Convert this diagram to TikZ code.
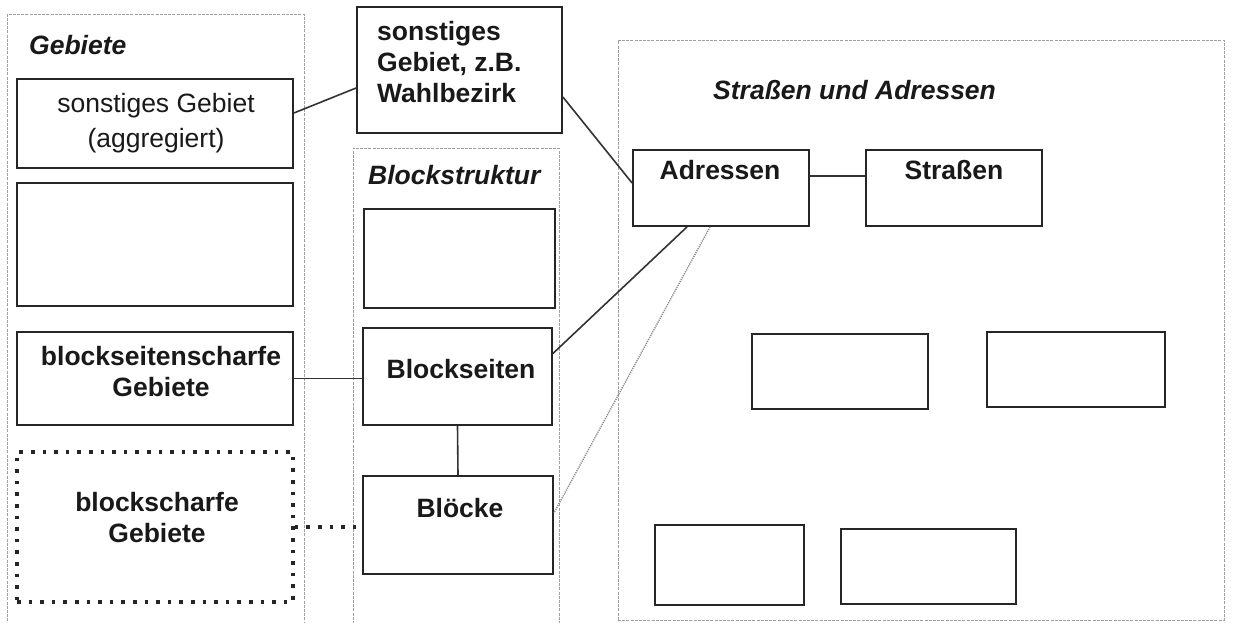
\documentclass[tikz,border=0pt]{standalone}
\usepackage{fontspec}
\setmainfont{Liberation Sans}
\usetikzlibrary{calc}
\newcommand\mlines[2][c]{\begin{tabular}[t]{@{}#1@{}}#2\end{tabular}}
\begin{document}
\begin{tikzpicture}[x=1pt,y=-1pt,
  container/.style={draw=gray!75, line width=0.8pt, dash pattern=on 3pt off 1.2pt, inner sep=0pt},
  box/.style={draw=black!85, line width=1.8pt, inner sep=0pt},
  dotbox/.style={draw=black!85, line width=3.6pt, dash pattern=on 3.6pt off 8pt, inner sep=0pt},
  title/.style={inner sep=0pt, anchor=base west, font=\fontsize{26.5}{31}\selectfont\bfseries\itshape, text=black!90},
  txt/.style={inner sep=0pt, anchor=base, font=\fontsize{26.5}{31}\selectfont\bfseries, text=black!90},
  rtxt/.style={inner sep=0pt, anchor=base, font=\fontsize{26.5}{35}\selectfont, text=black!90},
  link/.style={draw=black!80, line width=1.6pt},
  dotlink/.style={draw=black!85, line width=3.6pt, dash pattern=on 3.6pt off 8pt},
  thinlink/.style={draw=gray!90, line width=1.4pt, dash pattern=on 1.2pt off 1pt}
]
\useasboundingbox[fill=white] (0,0) rectangle (1234,622);

% containers
\node[container, minimum width=297pt, minimum height=616pt] (gebiete) at (155.5,322) {};
\node[container, minimum width=206pt, minimum height=480pt] (blockstr) at (456,388) {};
\node[container, minimum width=606pt, minimum height=580pt] (strassen) at (921,330) {};

\node[title] (tgeb) at (29,54) {Gebiete};
\node[title] (tblock) at (368,184) {Blockstruktur};
\node[title] (tstr) at (713,99) {Straßen und Adressen};

% Gebiete boxes
\node[box, minimum width=276pt, minimum height=89pt] (agg) at (155,123.5) {};
\node[rtxt] (taggl) at (156,112) {\mlines{sonstiges Gebiet\\(aggregiert)}};
\node[box, minimum width=276pt, minimum height=123pt] (empt1) at (155,244.5) {};
\node[box, minimum width=276pt, minimum height=93pt] (bsg) at (155,378.5) {};
\node[txt] (tbsg) at (161,365) {\mlines{blockseitenscharfe\\Gebiete}};
\node[dotbox, minimum width=276pt, minimum height=150pt] (bg) at (155,527) {};
\node[txt] (tbg) at (157,511) {\mlines{blockscharfe\\Gebiete}};

% Wahlbezirk
\node[box, minimum width=205pt, minimum height=126pt] (wahl) at (459.5,70) {};
\node[txt, anchor=base west] (twahl) at (377,40) {\mlines[l]{sonstiges\\Gebiet, z.B.\\Wahlbezirk}};

% Blockstruktur boxes
\node[box, minimum width=191pt, minimum height=99pt] (empt2) at (459.5,258.5) {};
\node[box, minimum width=189pt, minimum height=97pt] (bseit) at (457.5,376.5) {};
\node[txt] (tbseit) at (461,378) {Blockseiten};
\node[box, minimum width=190pt, minimum height=98pt] (bloe) at (458,525) {};
\node[txt] (tbloe) at (460,517) {Blöcke};

% Straßen und Adressen boxes
\node[box, minimum width=176pt, minimum height=76pt] (adr) at (721,188) {};
\node[txt] (tadr) at (720,179) {Adressen};
\node[box, minimum width=176pt, minimum height=76pt] (str) at (954,188) {};
\node[txt] (tstrb) at (954,179) {Straßen};
\node[box, minimum width=176pt, minimum height=75pt] (f1) at (840,371.5) {};
\node[box, minimum width=178pt, minimum height=75pt] (f2) at (1076,369.5) {};
\node[box, minimum width=149pt, minimum height=80pt] (f3) at (729.5,565) {};
\node[box, minimum width=175pt, minimum height=75pt] (f4) at (928.5,566.5) {};

% connectors
\draw[link] ([yshift=10.5pt]agg.east) -- ([yshift=-18pt]wahl.west);
\draw[link] ([yshift=-27pt]wahl.east) -- ([yshift=5pt]adr.west);
\draw[link] ([yshift=12pt]adr.east) -- ([yshift=12pt]str.west);
\draw[link] ([xshift=-34pt]adr.south) -- ([yshift=23pt]bseit.east);
\draw[thinlink] ([xshift=-11pt]adr.south) -- ([yshift=12pt]bloe.east);
\draw[link] (bsg.east) -- (bsg.east -| bseit.west);
\draw[link] (bseit.south) -- (bloe.north);
\draw[dotlink] (bg.east) -- (bg.east -| bloe.west);
\end{tikzpicture}
\end{document}
